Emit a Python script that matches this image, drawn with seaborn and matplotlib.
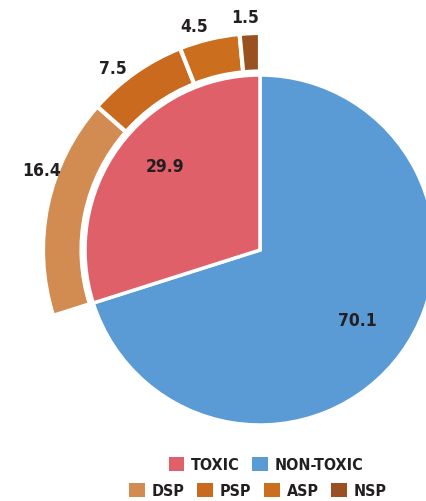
import numpy as np
import matplotlib
matplotlib.use("Agg")
import matplotlib.pyplot as plt
from matplotlib.patches import Patch
import seaborn as sns

# ---- data ----
inner_labels = ["NON-TOXIC", "TOXIC"]
inner_values = [70.1, 29.9]
outer_labels = ["DSP", "PSP", "ASP", "NSP"]
outer_values = [16.4, 7.5, 4.5, 1.5]

# ---- style ----
sns.set_theme(style="white")
FONT = ["DejaVu Sans"]
plt.rcParams["font.family"] = FONT
plt.rcParams["font.stretch"] = "condensed"

inner_colors = {"NON-TOXIC": "#5B9BD5", "TOXIC": "#E0606A"}
outer_colors = {"DSP": "#D28C52", "PSP": "#C96A1E", "ASP": "#CB6F1F", "NSP": "#9A5121"}
text_color = "#231F20"

fig = plt.figure(figsize=(4.27, 5.01), dpi=100)
ax = fig.add_axes([0, 0, 1, 1])

# inner pie
inner_w, _ = ax.pie(inner_values, radius=1.0, startangle=90, counterclock=False,
                    colors=[inner_colors[k] for k in inner_labels],
                    wedgeprops=dict(edgecolor="white", linewidth=2.5))

# outer ring (first slot is a hidden placeholder for the non-toxic share)
ring_vals = [inner_values[0]] + outer_values
outer_w, _ = ax.pie(ring_vals, radius=1.24, startangle=90, counterclock=False,
                    colors=["none"] + [outer_colors[k] for k in outer_labels],
                    wedgeprops=dict(width=0.22, edgecolor="white", linewidth=3))
outer_w[0].set_visible(False)

# view window (set after pie, which resets limits)
scale = 175.0
cx, cy = 260.0, 250.0
ax.set_aspect("equal")
ax.set_xlim(-cx / scale, (427 - cx) / scale)
ax.set_ylim(-(501 - cy) / scale, cy / scale)
ax.axis("off")

def place(wedge, dist, nudge=0.0, txt=""):
    th = np.deg2rad((wedge.theta1 + wedge.theta2) / 2 + nudge)
    ax.text(dist * np.cos(th), dist * np.sin(th), txt, ha="center", va="center",
            fontsize=12.5, color=text_color, family=FONT, fontweight="bold",
            fontstretch="condensed")

# inner labels
place(inner_w[0], 0.69, 0, f"{inner_values[0]}")
place(inner_w[1], 0.72, -5, f"{inner_values[1]}")
# outer labels
nudges = [-8, 4, 3, 1]
for w, v, n in zip(outer_w[1:], outer_values, nudges):
    place(w, 1.33, n, f"{v}")

# legends
prop = dict(family=FONT, size=11.5, weight="bold", stretch="condensed")
h1 = [Patch(facecolor=inner_colors[k], edgecolor="none", label=k) for k in ["TOXIC", "NON-TOXIC"]]
leg1 = fig.legend(handles=h1, loc="center", bbox_to_anchor=(266 / 427, 1 - 465 / 501),
                  ncol=2, frameon=False, handlelength=1.0, handleheight=1.0,
                  handletextpad=0.4, columnspacing=0.8, prop=prop)
for t in leg1.get_texts():
    t.set_color(text_color)
h2 = [Patch(facecolor=outer_colors[k], edgecolor="none", label=k) for k in outer_labels]
leg2 = fig.legend(handles=h2, loc="center", bbox_to_anchor=(258 / 427, 1 - 491 / 501),
                  ncol=4, frameon=False, handlelength=1.0, handleheight=1.0,
                  handletextpad=0.4, columnspacing=0.8, prop=prop)
for t in leg2.get_texts():
    t.set_color(text_color)

fig.savefig("out.png", dpi=100, facecolor="white")
